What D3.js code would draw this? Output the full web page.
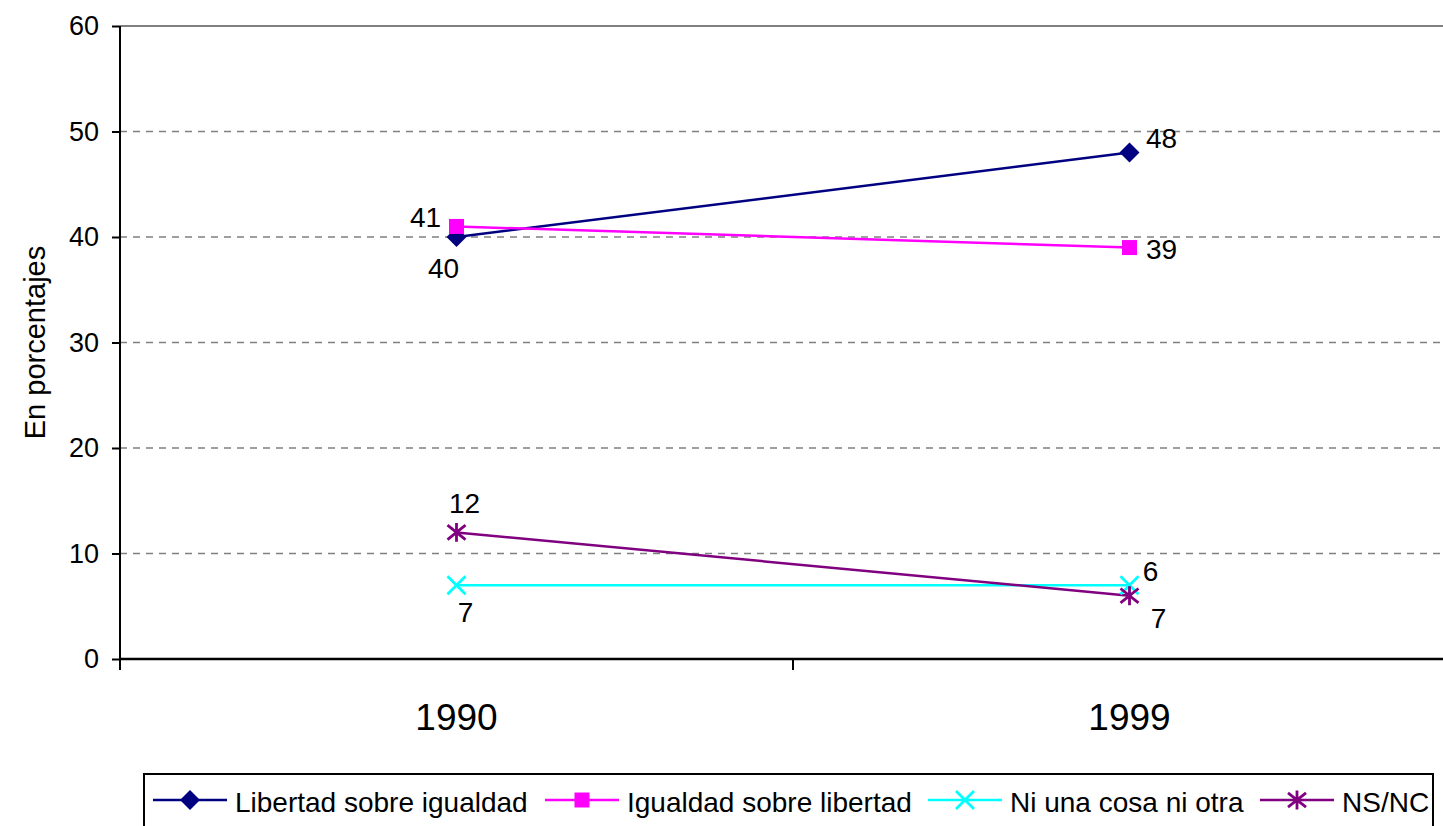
<!DOCTYPE html>
<html>
<head>
<meta charset="utf-8">
<script src="https://cdn.jsdelivr.net/npm/d3@7"></script>
<style>
  body { margin: 0; background: #fff; overflow: hidden; }
  svg { display: block; font-family: "Liberation Sans", Arial, sans-serif; }
</style>
</head>
<body>
<script>
// data
const years = ['1990', '1999'];
const seriesNames = ['Libertad sobre igualdad', 'Igualdad sobre libertad', 'Ni una cosa ni otra', 'NS/NC'];
const libertad = [40, 48];
const igualdad = [41, 39];
const niUna = [7, 7];
const nsnc = [12, 6];
const yTicks = [0, 10, 20, 30, 40, 50, 60];

const colors = ['#000080', '#ff00ff', '#00ffff', '#800080'];
const symbols = ['diamond', 'square', 'cross', 'star'];
// label offsets [dx, dy] per series per year (placement only)
const labelOffsets = [
  [[-13, 31], [32, -14]],
  [[-31, -9], [32, 2]],
  [[9, 27], [29, 33]],
  [[8, -29], [21, -24]]
];

const series = [libertad, igualdad, niUna, nsnc].map((vals, i) => ({
  name: seriesNames[i], values: vals, color: colors[i], symbol: symbols[i], offsets: labelOffsets[i]
}));

const W = 1443, H = 826;
const plotLeft = 120, plotTop = 26, plotBottom = 659;

const svg = d3.select('body').append('svg')
    .attr('width', W)
    .attr('height', H);

const y = d3.scaleLinear().domain([0, 60]).range([plotBottom, plotTop]);
const x = d3.scaleBand().domain(years).range([plotLeft, plotLeft + 2 * 673]);

// gridlines
svg.append('g')
  .selectAll('line')
  .data(yTicks.filter(d => d > 0))
  .join('line')
    .attr('x1', plotLeft)
    .attr('x2', W)
    .attr('y1', d => y(d))
    .attr('y2', d => y(d))
    .attr('stroke', '#808080')
    .attr('stroke-width', d => d === 60 ? 2 : 1.3)
    .attr('stroke-dasharray', d => d === 60 ? null : '7,6');

// y axis
const yAxis = d3.axisLeft(y).tickValues(yTicks).tickSize(8).tickPadding(13);
const yg = svg.append('g')
    .attr('transform', `translate(${plotLeft},0)`)
    .call(yAxis);
yg.select('.domain').remove();
yg.append('line')
    .attr('x1', 0).attr('x2', 0)
    .attr('y1', plotTop).attr('y2', plotBottom + 11)
    .attr('stroke', '#000').attr('stroke-width', 2);
yg.selectAll('.tick line').attr('stroke', '#000').attr('stroke-width', 2);
yg.selectAll('.tick text')
    .attr('font-size', 27)
    .attr('fill', '#000')
    .attr('font-family', '"Liberation Sans", Arial, sans-serif');

// x axis
const xg = svg.append('g')
    .attr('transform', `translate(0,${plotBottom})`);
xg.append('line')
    .attr('x1', plotLeft).attr('x2', W)
    .attr('y1', 0).attr('y2', 0)
    .attr('stroke', '#000').attr('stroke-width', 2.5);
xg.selectAll('.xtick')
  .data(years)
  .join('line')
    .attr('class', 'xtick')
    .attr('x1', d => x(d) + x.bandwidth())
    .attr('x2', d => x(d) + x.bandwidth())
    .attr('y1', 0).attr('y2', 11)
    .attr('stroke', '#000').attr('stroke-width', 2);
xg.selectAll('.xlabel')
  .data(years)
  .join('text')
    .attr('class', 'xlabel')
    .attr('x', d => x(d) + x.bandwidth() / 2)
    .attr('y', 71)
    .attr('text-anchor', 'middle')
    .attr('font-size', 37)
    .text(d => d);

// y title
svg.append('text')
    .attr('transform', `translate(45,${(plotTop + plotBottom) / 2}) rotate(-90)`)
    .attr('text-anchor', 'middle')
    .attr('font-size', 29)
    .text('En porcentajes');

const cx = d => x(d) + x.bandwidth() / 2;

function symbolPath(kind) {
  if (kind === 'diamond') {
    const r = 10;
    return `M0,${-r}L${r},0L0,${r}L${-r},0Z`;
  }
  if (kind === 'square') {
    const r = 7.5;
    return `M${-r},${-r}H${r}V${r}H${-r}Z`;
  }
  const r = 9;
  if (kind === 'cross') return `M${-r},${-r}L${r},${r}M${-r},${r}L${r},${-r}`;
  // asterisk: X plus vertical bar
  return `M${-r},${-r * 0.8}L${r},${r * 0.8}M${-r},${r * 0.8}L${r},${-r * 0.8}M0,${-r * 1.05}L0,${r * 1.05}`;
}

function drawMarker(g, s, px, py) {
  const p = g.append('path')
      .attr('d', symbolPath(s.symbol))
      .attr('transform', `translate(${px},${py})`);
  if (s.symbol === 'cross' || s.symbol === 'star') {
    p.attr('fill', 'none').attr('stroke', s.color).attr('stroke-width', 2.8);
  } else {
    p.attr('fill', s.color).attr('stroke', 'none');
  }
}

const line = d3.line()
    .x((d, i) => cx(years[i]))
    .y(d => y(d));

const plot = svg.append('g');
series.forEach(s => {
  plot.append('path')
      .datum(s.values)
      .attr('d', line)
      .attr('fill', 'none')
      .attr('stroke', s.color)
      .attr('stroke-width', 2.5);
});
series.forEach(s => {
  s.values.forEach((v, i) => drawMarker(plot, s, cx(years[i]), y(v)));
});

// data labels
series.forEach(s => {
  s.values.forEach((v, i) => {
    plot.append('text')
        .attr('x', cx(years[i]) + s.offsets[i][0])
        .attr('y', y(v) + s.offsets[i][1])
        .attr('text-anchor', 'middle')
        .attr('dominant-baseline', 'central')
        .attr('font-size', 28)
        .text(v);
  });
});

// legend
const legend = svg.append('g');
legend.append('rect')
    .attr('x', 144).attr('y', 774)
    .attr('width', 1289).attr('height', 70)
    .attr('fill', '#fff').attr('stroke', '#000').attr('stroke-width', 2);
const legendX = [153, 545, 928, 1260];
series.forEach((s, i) => {
  const g = legend.append('g').attr('transform', `translate(${legendX[i]},800)`);
  g.append('line')
      .attr('x1', 0).attr('x2', 74)
      .attr('stroke', s.color).attr('stroke-width', 2.5);
  drawMarker(g, s, 37, 0);
  g.append('text')
      .attr('x', 82)
      .attr('y', 2)
      .attr('dominant-baseline', 'central')
      .attr('font-size', 28)
      .text(s.name);
});
</script>
</body>
</html>
